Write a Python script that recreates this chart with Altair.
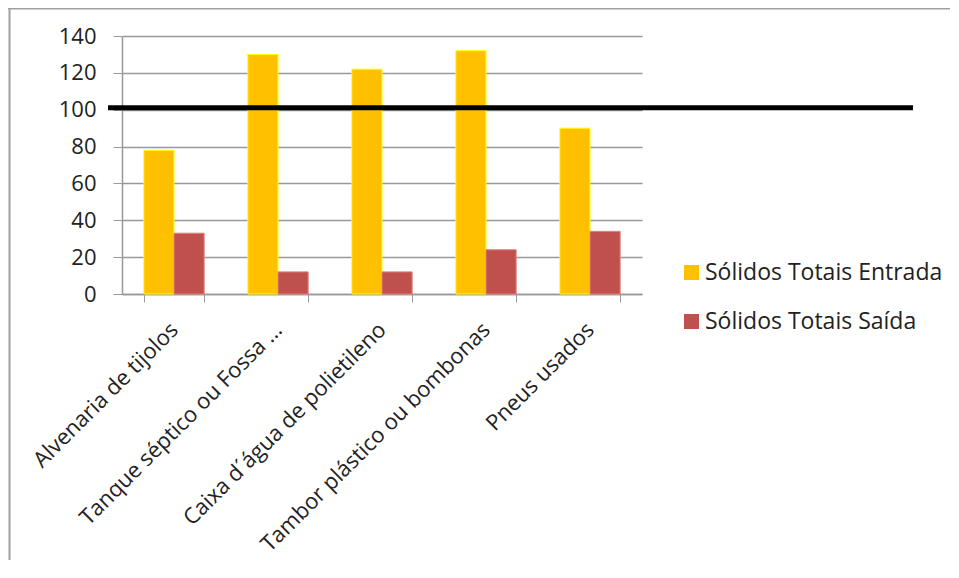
import altair as alt
import pandas as pd

categories = ["Alvenaria de tijolos", "Tanque séptico ou Fossa ...", "Caixa d´água de polietileno",
              "Tambor plástico ou bombonas", "Pneus usados"]
entrada = [78, 130, 122, 132, 90]
saida = [33, 12, 12, 24, 34]
series = ["Sólidos Totais Entrada", "Sólidos Totais Saída"]
threshold = [101]

rows = []
for c, e, s in zip(categories, entrada, saida):
    rows.append({"cat": c, "serie": series[0], "v": e})
    rows.append({"cat": c, "serie": series[1], "v": s})
df = pd.DataFrame(rows)

W, H = 520, 258
FONT = "Open Sans"
FS = 22

color = alt.Color("serie:N", sort=series,
                  scale=alt.Scale(domain=series, range=["#FFC000", "#C0504D"]),
                  legend=alt.Legend(title=None, orient="none", legendX=558, legendY=225,
                                    symbolType="square", symbolSize=225, symbolStrokeWidth=0,
                                    labelFontSize=23, labelFont=FONT, labelColor="#222222",
                                    rowPadding=25, labelOffset=2, labelLimit=400))
stroke = alt.Stroke("serie:N", sort=series,
                    scale=alt.Scale(domain=series, range=["#FFFF00", "#E08080"]), legend=None)

yaxis = alt.Axis(title=None, values=list(range(0, 141, 20)), labelFontSize=FS,
                 labelFont=FONT, labelColor="#222222", tickSize=9, tickColor="#999999",
                 labelPadding=17, domainColor="#999999", domainWidth=1.5,
                 labelOverlap=False, labelBound=False,
                 grid=True, gridColor="#999999", gridWidth=1.5)
yscale = alt.Scale(domain=[0, 140], nice=False)

bars = alt.Chart(df).mark_bar(strokeWidth=1).encode(
    x=alt.X("cat:N", sort=categories,
            scale=alt.Scale(paddingInner=0.42, paddingOuter=0.21),
            axis=alt.Axis(title=None, labelAngle=-45, labelAlign="right", labelBaseline="middle",
                          labelFontSize=FS, labelFont=FONT, labelColor="#222222", labelLimit=500,
                          labelPadding=24, tickSize=8, tickColor="#999999", tickBand="extent",
                          domainColor="#999999", domainWidth=1.5, grid=False,
                          labelOverlap=False, labelBound=False)),
    xOffset=alt.XOffset("serie:N", sort=series),
    y=alt.Y("v:Q", scale=yscale, axis=yaxis),
    color=color,
    stroke=stroke,
)

thr = alt.Chart(pd.DataFrame({"t": threshold})).mark_rule(color="black", strokeWidth=5).encode(
    y=alt.Y("t:Q", scale=yscale, axis=yaxis), x=alt.value(-14), x2=alt.value(791))

frame_top = alt.Chart(pd.DataFrame({"a": [0]})).mark_rule(color="#a0a0a0", strokeWidth=2).encode(
    x=alt.value(-114), x2=alt.value(860), y=alt.value(-27.5))
frame_left = alt.Chart(pd.DataFrame({"a": [0]})).mark_rule(color="#a0a0a0", strokeWidth=2).encode(
    x=alt.value(-112.5), y=alt.value(-28), y2=alt.value(560))

chart = alt.layer(bars, thr, frame_top, frame_left).properties(
    width=W, height=H,
    background="white",
    autosize=alt.AutoSizeParams(type="none"),
    padding={"left": 114, "top": 28, "right": 308, "bottom": 266},
).configure_view(strokeWidth=0)

chart.save("out.html", embed_options={"renderer": "svg", "actions": False})
